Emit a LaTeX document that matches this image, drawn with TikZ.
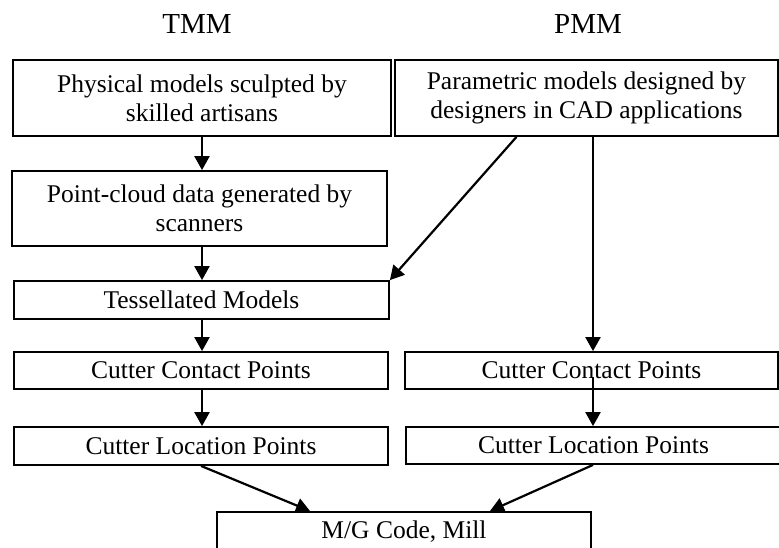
\documentclass[tikz,border=0pt]{standalone}
\usepackage{fontspec}
\setmainfont{Liberation Serif}
\usetikzlibrary{arrows.meta}
\begin{document}
\begin{tikzpicture}[x=1pt,y=-1pt,
  box/.style={draw, line width=1.8pt, inner sep=0pt, align=center,
    font=\fontsize{25.5}{29}\selectfont},
  flow/.style={line width=2.2pt, -{Triangle[length=14pt,width=15pt]}},
  heading/.style={font=\fontsize{29}{32}\selectfont, inner sep=0pt}]
\clip (0,0) rectangle (779,547);

% column headings
\node[heading] (tmm) at (197,24) {TMM};
\node[heading] (pmm) at (588,24) {PMM};

% traditional (TMM) chain
\node[box, minimum width=378pt, minimum height=76pt] (phys) at (202,98)
  {Physical models sculpted by\\skilled artisans};
\node[box, minimum width=375pt, minimum height=75pt] (cloud) at (199.5,208.5)
  {Point-cloud data generated by\\scanners};
\node[box, minimum width=375pt, minimum height=38pt] (tess) at (201.5,300)
  {Tessellated Models};
\node[box, minimum width=374pt, minimum height=37pt] (ccL) at (201,370.5)
  {Cutter Contact Points};
\node[box, minimum width=374pt, minimum height=38pt] (clL) at (201,446)
  {Cutter Location Points};

% parametric (PMM) chain
\node[box, minimum width=383pt, minimum height=76pt] (param) at (586.5,98)
  {Parametric models designed by\\designers in CAD applications};
\node[box, minimum width=373pt, minimum height=37pt] (ccR) at (591.5,370.5)
  {Cutter Contact Points};
\node[box, minimum width=375pt, minimum height=37pt] (clR) at (593.5,445.5)
  {Cutter Location Points};

% machining output
\node[box, anchor=north, minimum width=374pt, text height=27pt, text depth=50pt]
  (mill) at (404,511) {M/G Code, Mill};

% connectors
\draw[flow] (phys.south -| 202,0) -- (cloud.north -| 202,0);
\draw[flow] (cloud.south -| 202,0) -- (tess.north -| 202,0);
\draw[flow] (tess.south -| 202,0) -- (ccL.north -| 202,0);
\draw[flow] (ccL.south -| 202,0) -- (clL.north -| 202,0);
\draw[flow] ([xshift=-70pt]param.south) -- (tess.north east);
\draw[flow] (param.south -| 593,0) -- (ccR.north -| 593,0);
\coordinate (ccRin) at (593,377);
\draw[flow] (ccRin) -- (clR.north -| ccRin);
\draw[flow] (clL.south) -- (mill.north -| 310,0);
\draw[flow] (clR.south -| 593,0) -- (mill.north -| 490,0);
\end{tikzpicture}
\end{document}
